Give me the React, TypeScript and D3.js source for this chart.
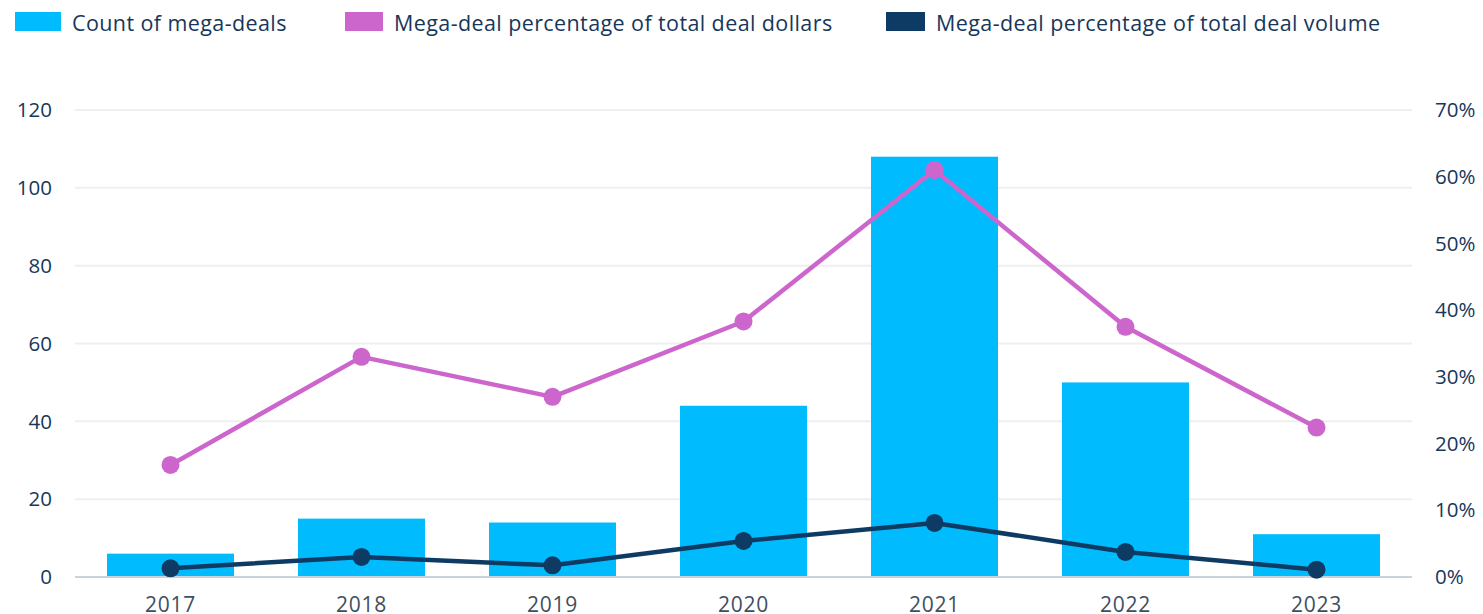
import React, { useEffect, useRef } from 'react';
import * as d3 from 'd3';

// chart data
const years = ['2017', '2018', '2019', '2020', '2021', '2022', '2023'];
const megaDealCount = [6, 15, 14, 44, 108, 50, 11];
const pctDollars = [16.8, 33.0, 27.0, 38.3, 61.0, 37.5, 22.4];
const pctVolume = [1.3, 3.0, 1.75, 5.4, 8.1, 3.75, 1.1];
const leftTicks = [0, 20, 40, 60, 80, 100, 120];
const rightTicks = [0, 10, 20, 30, 40, 50, 60, 70];

const legendItems = [
  { label: 'Count of mega-deals', color: '#00bcff', x: 15, w: 46 },
  { label: 'Mega-deal percentage of total deal dollars', color: '#cc66cc', x: 345, w: 38 },
  { label: 'Mega-deal percentage of total deal volume', color: '#0e3b63', x: 886, w: 39 },
];

const W = 1483;
const H = 614;
const FONT = '"Open Sans", Lato, sans-serif';

const App = () => {
  const svgRef = useRef<SVGSVGElement>(null);

  useEffect(() => {
    const svg = d3.select(svgRef.current);
    svg.selectAll('*').remove();

    const left = 75, right = 1412, top = 110, bottom = 577;

    const x = d3.scaleBand().domain(years).range([left, right]).paddingInner(0.335).paddingOuter(0.1675);
    const yL = d3.scaleLinear().domain([0, 120]).range([bottom, top]);
    const yR = d3.scaleLinear().domain([0, 70]).range([bottom, top]);

    // gridlines
    svg.append('g')
      .selectAll('line')
      .data(leftTicks.filter(d => d > 0))
      .enter().append('line')
      .attr('x1', left).attr('x2', right)
      .attr('y1', d => yL(d)).attr('y2', d => yL(d))
      .attr('stroke', '#efefef').attr('stroke-width', 2);

    // left tick labels
    svg.append('g')
      .selectAll('text')
      .data(leftTicks)
      .enter().append('text')
      .attr('x', 52).attr('y', d => yL(d))
      .attr('dy', '0.35em')
      .attr('text-anchor', 'end')
      .attr('font-family', FONT).attr('font-size', 20.5)
      .attr('fill', '#17375a')
      .text(d => d);

    // right tick labels
    svg.append('g')
      .selectAll('text')
      .data(rightTicks)
      .enter().append('text')
      .attr('x', 1435).attr('y', d => yR(d))
      .attr('dy', '0.35em')
      .attr('text-anchor', 'start')
      .attr('font-family', FONT).attr('font-size', 20.5)
      .attr('fill', '#17375a')
      .text(d => d + '%');

    // bars
    svg.append('g')
      .selectAll('rect')
      .data(megaDealCount)
      .enter().append('rect')
      .attr('x', (d, i) => x(years[i]))
      .attr('y', d => yL(d))
      .attr('width', x.bandwidth())
      .attr('height', d => yL(0) - yL(d))
      .attr('fill', '#00bcff');

    // baseline
    svg.append('line')
      .attr('x1', left).attr('x2', right)
      .attr('y1', bottom).attr('y2', bottom)
      .attr('stroke', '#c9d3df').attr('stroke-width', 2);

    // x labels (bottom edge clips them a little, same as the source)
    svg.append('g')
      .selectAll('text')
      .data(years)
      .enter().append('text')
      .attr('x', d => x(d) + x.bandwidth() / 2)
      .attr('y', 612)
      .attr('text-anchor', 'middle')
      .attr('font-family', FONT).attr('font-size', 21)
      .attr('letter-spacing', 0.8)
      .attr('fill', '#3e4f60')
      .text(d => d);

    const cx = (i) => x(years[i]) + x.bandwidth() / 2;
    const drawLine = (vals, color) => {
      const line = d3.line<number>().x((d, i) => cx(i)).y(d => yR(d));
      svg.append('path')
        .datum(vals)
        .attr('d', line)
        .attr('fill', 'none')
        .attr('stroke', color)
        .attr('stroke-width', 4.5)
        .attr('stroke-linejoin', 'round');
      svg.append('g')
        .selectAll('circle')
        .data(vals)
        .enter().append('circle')
        .attr('cx', (d, i) => cx(i))
        .attr('cy', d => yR(d))
        .attr('r', 9)
        .attr('fill', color);
    };
    drawLine(pctDollars, '#cc66cc');
    drawLine(pctVolume, '#0e3b63');

    // legend
    const lg = svg.append('g');
    legendItems.forEach(item => {
      lg.append('rect')
        .attr('x', item.x).attr('y', 12)
        .attr('width', item.w).attr('height', 19)
        .attr('fill', item.color);
      lg.append('text')
        .attr('x', item.x + item.w + 11).attr('y', 31)
        .attr('font-family', FONT).attr('font-size', 21.5)
        .attr('letter-spacing', 0.4)
        .attr('fill', '#17375a')
        .text(item.label);
    });
  });

  return (
    <div style={{ position: 'absolute', left: 0, top: 0 }}>
      <svg ref={svgRef} width={W} height={H} style={{ display: 'block', background: '#fff' }}></svg>
    </div>
  );
};

export default App;
